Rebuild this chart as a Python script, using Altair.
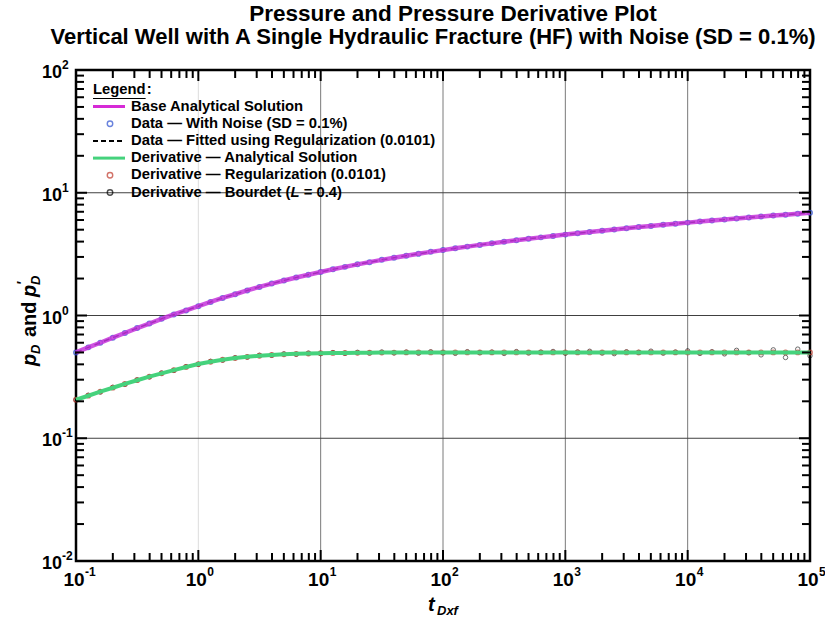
import altair as alt
import pandas as pd

# ---------------- data ----------------
t = [0.1, 0.126, 0.158, 0.2, 0.251, 0.316, 0.398, 0.501, 0.631, 0.794,
     1, 1.26, 1.58, 2.0, 2.51, 3.16, 3.98, 5.01, 6.31, 7.94,
     10, 12.6, 15.8, 20, 25.1, 31.6, 39.8, 50.1, 63.1, 79.4,
     100, 126, 158, 200, 251, 316, 398, 501, 631, 794,
     1000, 1260, 1580, 2000, 2510, 3160, 3980, 5010, 6310, 7940,
     10000, 12600, 15800, 20000, 25100, 31600, 39800, 50100, 63100, 79400, 100000]

pD = [0.50, 0.55, 0.60, 0.66, 0.72, 0.79, 0.86, 0.94, 1.02, 1.10,
      1.19, 1.29, 1.39, 1.49, 1.60, 1.71, 1.82, 1.93, 2.04, 2.15,
      2.26, 2.38, 2.49, 2.61, 2.72, 2.84, 2.95, 3.07, 3.18, 3.30,
      3.41, 3.53, 3.64, 3.76, 3.87, 3.99, 4.10, 4.22, 4.33, 4.45,
      4.56, 4.68, 4.79, 4.91, 5.02, 5.14, 5.25, 5.37, 5.48, 5.60,
      5.71, 5.83, 5.94, 6.06, 6.17, 6.29, 6.40, 6.52, 6.63, 6.75, 6.87]

dpD = [0.206, 0.222, 0.240, 0.258, 0.277, 0.297, 0.318, 0.338, 0.359, 0.381,
       0.402, 0.420, 0.436, 0.450, 0.461, 0.470, 0.477, 0.483, 0.487, 0.490,
       0.493, 0.495, 0.496, 0.497, 0.498, 0.499, 0.499, 0.500, 0.500, 0.500,
       0.500, 0.500, 0.500, 0.500, 0.500, 0.500, 0.500, 0.500, 0.500, 0.500,
       0.500, 0.500, 0.500, 0.500, 0.500, 0.500, 0.500, 0.500, 0.500, 0.500,
       0.500, 0.500, 0.500, 0.500, 0.500, 0.500, 0.500, 0.500, 0.500, 0.500, 0.500]

bourdet = [0.205, 0.224, 0.238, 0.260, 0.275, 0.299, 0.316, 0.340, 0.357, 0.383,
           0.400, 0.423, 0.433, 0.453, 0.458, 0.474, 0.474, 0.487, 0.483, 0.494,
           0.489, 0.499, 0.492, 0.501, 0.495, 0.504, 0.496, 0.503, 0.494, 0.506,
           0.497, 0.492, 0.507, 0.498, 0.503, 0.491, 0.508, 0.496, 0.502, 0.509,
           0.493, 0.504, 0.511, 0.495, 0.489, 0.506, 0.500, 0.512, 0.494, 0.503,
           0.515, 0.491, 0.507, 0.487, 0.520, 0.498, 0.478, 0.525, 0.455, 0.532, 0.470]

x_decades = [0.1, 1, 10, 100, 1000, 10000, 100000]
x_exps = ["-1", "0", "1", "2", "3", "4", "5"]
y_decades = [0.01, 0.1, 1, 10, 100]
y_exps = ["-2", "-1", "0", "1", "2"]
vgrid = [1, 10, 100, 1000, 10000]
vgrid_col = ["#dcdcdc", "#7a7a7a", "#7a7a7a", "#7a7a7a", "#7a7a7a"]
hgrid = [0.1, 1, 10]

title1 = "Pressure and Pressure Derivative Plot"
title2 = "Vertical Well with A Single Hydraulic Fracture (HF) with Noise (SD = 0.1%)"
legend_rows = ["Base Analytical Solution",
               "Data \u2014 With Noise (SD = 0.1%)",
               "Data \u2014 Fitted using Regularization (0.0101)",
               "Derivative \u2014 Analytical Solution",
               "Derivative \u2014 Regularization (0.0101)",
               "Derivative \u2014 Bourdet ("]

C_MAG = "#d62ad6"
C_LINE = "#c534dc"
C_BLUE = "#2b4fd0"
C_GREEN = "#45d27c"
C_RED = "#c0392b"

# ---------------- layout ----------------
W, H = 734, 491
F = "Liberation Sans"

xs = alt.Scale(type="log", domain=[0.1, 100000], nice=False)
ys = alt.Scale(type="log", domain=[0.01, 100], nice=False)

df = pd.DataFrame({"t": t, "pD": pD, "dpD": dpD, "bourdet": bourdet})
one = pd.DataFrame({"a": [0]})

X = alt.X("t:Q", scale=xs, axis=None)


def ycol(c):
    return alt.Y(f"{c}:Q", scale=ys, axis=None)


layers = []

# gridlines
gv = pd.DataFrame({"v": vgrid, "c": vgrid_col})
layers.append(alt.Chart(gv).mark_rule(strokeWidth=1).encode(
    x=alt.X("v:Q", scale=xs, axis=None), y=alt.value(0), y2=alt.value(H),
    color=alt.Color("c:N", scale=None)))
gh = pd.DataFrame({"v": hgrid})
layers.append(alt.Chart(gh).mark_rule(strokeWidth=1, color="#404040").encode(
    y=alt.Y("v:Q", scale=ys, axis=None), x=alt.value(0), x2=alt.value(W)))

# pressure series
base = alt.Chart(df)
layers.append(base.mark_line(color="black", strokeDash=[6, 4], strokeWidth=1.5).encode(x=X, y=ycol("pD")))
layers.append(base.mark_point(shape="circle", filled=False, color=C_BLUE, size=20, strokeWidth=1.5).encode(x=X, y=ycol("pD")))
layers.append(base.mark_line(color=C_LINE, strokeWidth=4.5, opacity=0.85).encode(x=X, y=ycol("pD")))

# derivative series
layers.append(base.mark_point(shape="circle", filled=False, color="black", size=20, strokeWidth=0.8).encode(x=X, y=ycol("bourdet")))
layers.append(base.mark_point(shape="circle", filled=False, color=C_RED, size=20, strokeWidth=1.3).encode(x=X, y=ycol("dpD")))
layers.append(base.mark_line(color=C_GREEN, strokeWidth=4).encode(x=X, y=ycol("dpD")))

# inward ticks on all sides
x_minor = [m * d for d in x_decades[:-1] for m in range(2, 10)]
y_minor = [m * d for d in y_decades[:-1] for m in range(2, 10)]
for vals, ln in ((x_decades, 11), (x_minor, 8)):
    d = pd.DataFrame({"v": vals})
    xx = alt.X("v:Q", scale=xs, axis=None)
    layers.append(alt.Chart(d).mark_rule(color="black", strokeWidth=2).encode(x=xx, y=alt.value(H), y2=alt.value(H - ln)))
    layers.append(alt.Chart(d).mark_rule(color="black", strokeWidth=2).encode(x=xx, y=alt.value(0), y2=alt.value(ln)))
for vals, ln in ((y_decades, 11), (y_minor, 8)):
    d = pd.DataFrame({"v": vals})
    yy = alt.Y("v:Q", scale=ys, axis=None)
    layers.append(alt.Chart(d).mark_rule(color="black", strokeWidth=2).encode(y=yy, x=alt.value(0), x2=alt.value(ln)))
    layers.append(alt.Chart(d).mark_rule(color="black", strokeWidth=2).encode(y=yy, x=alt.value(W), x2=alt.value(W - ln)))

# tick labels
xl = pd.DataFrame({"v": x_decades, "e": x_exps})
layers.append(alt.Chart(xl).mark_text(text="10", font=F, fontWeight="bold", fontSize=19, align="center", baseline="middle", dx=-2).encode(
    x=alt.X("v:Q", scale=xs, axis=None), y=alt.value(H + 19)))
layers.append(alt.Chart(xl).mark_text(font=F, fontWeight="bold", fontSize=12, align="left", baseline="middle", dx=9).encode(
    x=alt.X("v:Q", scale=xs, axis=None), y=alt.value(H + 11), text="e:N"))
yl = pd.DataFrame({"v": y_decades, "e": y_exps})
layers.append(alt.Chart(yl).mark_text(text="10", font=F, fontWeight="bold", fontSize=18, align="right", baseline="middle", dy=3).encode(
    y=alt.Y("v:Q", scale=ys, axis=None), x=alt.value(-14)))
layers.append(alt.Chart(yl).mark_text(font=F, fontWeight="bold", fontSize=12, align="left", baseline="middle", dy=-5).encode(
    y=alt.Y("v:Q", scale=ys, axis=None), x=alt.value(-14), text="e:N"))


def txt(s, x, y, size=14.8, style="normal", align="left", angle=0, weight="bold"):
    return alt.Chart(one).mark_text(text=s, font=F, fontSize=size, fontWeight=weight, fontStyle=style,
                                    align=align, baseline="middle", angle=angle).encode(
        x=alt.value(x), y=alt.value(y))


# titles
layers.append(txt(title1, 377, -56, size=22.5, align="center"))
layers.append(txt(title2, 357, -33, size=22, align="center"))

# x-axis title t_Dxf
layers.append(txt("t", 352, H + 44, size=20, style="italic"))
layers.append(txt("Dxf", 361, H + 50, size=13, style="italic"))

# y-axis title p_D and p'_D (rotated, reading upward)
YT = -46
layers.append(txt("p", YT, 296, size=20, style="italic", angle=270))
layers.append(txt("D", YT + 6, 284, size=13, style="italic", angle=270))
layers.append(txt("and", YT, 267, size=20, angle=270))
layers.append(txt("p", YT, 227, size=20, style="italic", angle=270))
layers.append(txt("\u2032", YT - 7, 215, size=14, style="italic", angle=270))
layers.append(txt("D", YT + 6, 215, size=13, style="italic", angle=270))

# legend
S = 14.8
LX0, LX1, LC, LT = 17, 49, 34, 55
row_y = [36.5, 53.7, 70.9, 88.1, 105.3, 122.5]
lw = 3.556 * S
layers.append(txt("Legend", LX0, 20, size=S))
layers.append(txt(":", LX0 + lw + 1, 20, size=S))
layers.append(alt.Chart(one).mark_rule(color="black", strokeWidth=1.2).encode(
    x=alt.value(LX0), x2=alt.value(LX0 + lw), y=alt.value(28.5)))
for i, s in enumerate(legend_rows):
    layers.append(txt(s, LT, row_y[i], size=S))
xL = LT + 10.78 * S
layers.append(txt("L", xL, row_y[5], size=S, style="italic"))
layers.append(txt("= 0.4)", xL + 0.611 * S + 0.278 * S, row_y[5], size=S))

legend_lines = [(0, C_MAG, None), (2, "black", [5, 3]), (3, C_GREEN, None)]
for i, c, dash in legend_lines:
    kw = dict(color=c, strokeWidth=3 if dash is None else 2)
    if dash is not None:
        kw["strokeDash"] = dash
    layers.append(alt.Chart(one).mark_rule(**kw).encode(
        x=alt.value(LX0), x2=alt.value(LX1), y=alt.value(row_y[i])))
for i, c in ((1, C_BLUE), (4, C_RED), (5, "black")):
    layers.append(alt.Chart(one).mark_point(shape="circle", filled=False, color=c, size=30, strokeWidth=1.4).encode(
        x=alt.value(LC), y=alt.value(row_y[i])))

chart = alt.layer(*layers).properties(
    width=W, height=H,
    autosize=alt.AutoSizeParams(type="none"),
    padding={"left": 76, "top": 70, "right": 15, "bottom": 71},
    background="white",
).configure_view(stroke="black", strokeWidth=2.5)

chart.save("out.html", embed_options={"renderer": "svg", "actions": False})
